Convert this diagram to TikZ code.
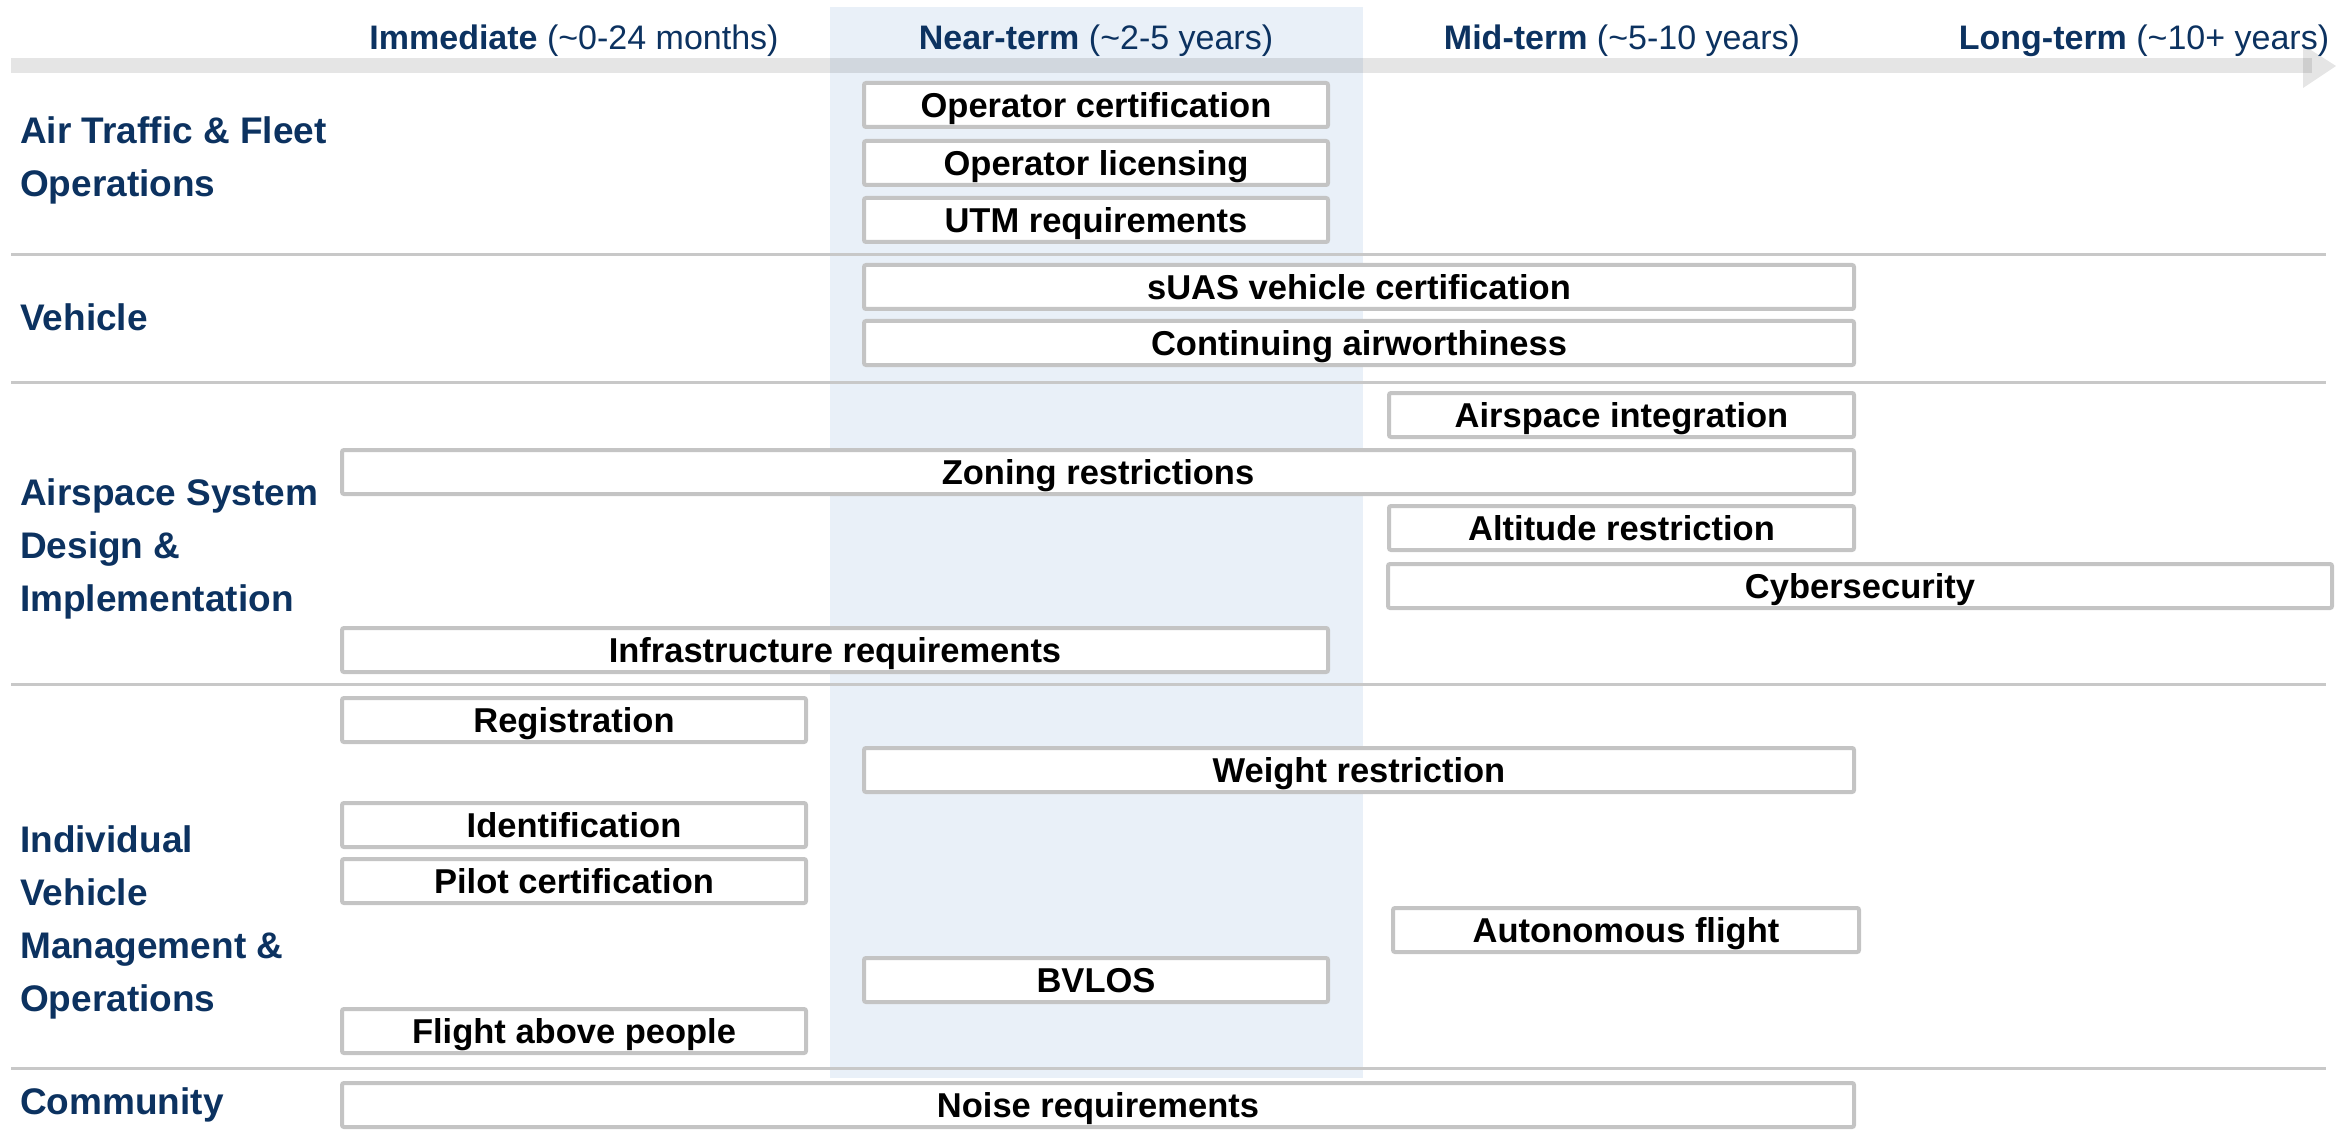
\documentclass[tikz,border=0pt]{standalone}
\usepackage{fontspec}
\setmainfont{Liberation Sans}
\definecolor{navy}{HTML}{0C3260}
\definecolor{nearblue}{HTML}{E9F0F8}
\definecolor{linegray}{HTML}{C8C8C8}
\definecolor{boxgray}{HTML}{C4C4C4}
\begin{document}
\begin{tikzpicture}[x=1pt,y=-1pt,
  tbox/.style={draw=boxgray, line width=4pt, fill=white, rounded corners=2pt,
    minimum height=44pt, inner sep=0pt, text=black,
    text height=24.7pt, text depth=0pt,
    font=\fontsize{34.5}{40}\selectfont\bfseries},
  rowlabel/.style={anchor=west, align=left, inner sep=0pt, text=navy,
    font=\fontsize{37}{53}\selectfont\bfseries},
  head/.style={anchor=base, inner sep=0pt, text=navy,
    font=\fontsize{34}{40}\selectfont},
  divider/.style={draw=linegray, line width=3pt}]
\useasboundingbox (0,0) rectangle (2336,1131);
% near-term shaded column
\fill[nearblue] (830,7) rectangle (1363,1078);
% dividers
\draw[divider] (11,255) -- (2326,255);
\draw[divider] (11,382) -- (2326,382);
\draw[divider] (11,684) -- (2326,684);
\draw[divider] (11,1068) -- (2326,1068);
% timeline arrow
\fill[black, opacity=0.1] (11,58) rectangle (2312,73);
\fill[black, opacity=0.1] (2303,45) -- (2336,66) -- (2303,88) -- cycle;
% headers
\node[head] (h1) at (574,50) {\textbf{Immediate} (\textasciitilde0-24 months)};
\node[head] (h2) at (1096,50) {\textbf{Near-term} (\textasciitilde2-5 years)};
\node[head] (h3) at (1622,50) {\textbf{Mid-term} (\textasciitilde5-10 years)};
\node[head] (h4) at (2144,50) {\textbf{Long-term} (\textasciitilde10+ years)};
% row labels
\node[rowlabel] (r1) at (20,160) {Air Traffic \& Fleet\\Operations};
\node[rowlabel] (r2) at (20,317) {Vehicle};
\node[rowlabel] (r3) at (20,549) {Airspace System\\Design \&\\Implementation};
\node[rowlabel] (r4) at (20,922) {Individual\\Vehicle\\Management \&\\Operations};
\node[rowlabel] (r5) at (20,1105) {Community};
% boxes
\node[tbox, minimum width=464pt] (oc) at (1096,105) {Operator certification};
\node[tbox, minimum width=464pt] (ol) at (1096,163) {Operator licensing};
\node[tbox, minimum width=464pt] (utm) at (1096,220) {UTM requirements};
\node[tbox, minimum width=990pt] (suas) at (1359,287) {sUAS vehicle certification};
\node[tbox, minimum width=990pt] (ca) at (1359,343) {Continuing airworthiness};
\node[tbox, minimum width=465pt] (ai) at (1621.5,415) {Airspace integration};
\node[tbox, minimum width=1512pt] (zr) at (1098,472) {Zoning restrictions};
\node[tbox, minimum width=465pt] (ar) at (1621.5,528) {Altitude restriction};
\node[tbox, minimum width=944pt] (cy) at (1860,586) {Cybersecurity};
\node[tbox, minimum width=986pt] (ir) at (835,650) {Infrastructure requirements};
\node[tbox, minimum width=464pt] (reg) at (574,720) {Registration};
\node[tbox, minimum width=990pt] (wr) at (1359,770) {Weight restriction};
\node[tbox, minimum width=464pt] (idn) at (574,825) {Identification};
\node[tbox, minimum width=464pt] (pc) at (574,881) {Pilot certification};
\node[tbox, minimum width=466pt] (af) at (1626,930) {Autonomous flight};
\node[tbox, minimum width=464pt] (bv) at (1096,980) {BVLOS};
\node[tbox, minimum width=464pt] (fap) at (574,1031) {Flight above people};
\node[tbox, minimum width=1512pt] (noise) at (1098,1105) {Noise requirements};
\end{tikzpicture}
\end{document}
